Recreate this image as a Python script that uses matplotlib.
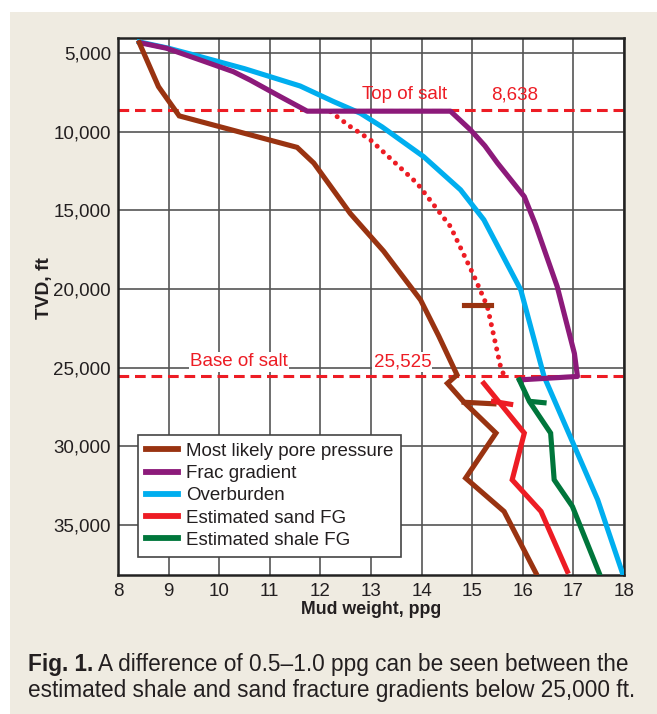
import matplotlib
matplotlib.use("Agg")
import matplotlib.pyplot as plt
from matplotlib.patches import Rectangle
from matplotlib.ticker import FuncFormatter

# ---------------- data ----------------
pore_x = [8.42, 8.80, 9.21, 11.54, 11.87, 12.59, 13.25, 13.98, 14.34, 14.70, 14.51, 14.84, 15.47, 14.87, 15.63, 16.26]
pore_y = [4350, 7140, 9000, 11000, 12000, 15200, 17600, 20700, 23000, 25460, 26000, 27200, 29160, 32020, 34140, 38060]

frac_x = [8.42, 8.96, 9.62, 10.28, 10.61, 11.21, 11.74, 14.57, 14.97, 15.25, 15.50, 16.03, 16.25, 16.68, 17.02, 17.08, 15.93]
frac_y = [4340, 4700, 5440, 6190, 6720, 7780, 8700, 8700, 9900, 10900, 12000, 14130, 15900, 19850, 24100, 25560, 25780]

ob_x = [8.42, 9.00, 9.62, 10.50, 11.60, 12.26, 12.79, 13.22, 14.04, 14.77, 15.23, 15.96, 16.42, 16.62, 17.05, 17.48, 17.97]
ob_y = [4300, 4700, 5230, 6000, 7100, 8090, 8830, 9700, 11590, 13700, 15600, 20060, 25560, 27040, 30220, 33400, 38060]

salt_fg_x = [12.20, 12.59, 12.99, 13.91, 14.57, 15.04, 15.30, 15.56, 15.61]
salt_fg_y = [8730, 9680, 10530, 13280, 16030, 19210, 21120, 24930, 25350]

sand_x = [15.23, 16.03, 15.79, 16.36, 16.88]
sand_y = [26000, 29160, 32130, 34140, 37950]

shale_x = [15.93, 16.13, 16.55, 16.62, 16.98, 17.51]
shale_y = [25780, 27150, 29160, 32130, 33820, 38060]

# short measurement marks
pore_mark1_x = [14.84, 15.37]
pore_mark1_y = [21000, 21000]
pore_mark2_x = [14.84, 15.43]
pore_mark2_y = [27200, 27300]
sand_mark_x = [15.42, 15.76]
sand_mark_y = [27150, 27330]
shale_mark_x = [16.16, 16.42]
shale_mark_y = [27150, 27230]

top_salt = 8638
base_salt = 25525

x_ticks = [8, 9, 10, 11, 12, 13, 14, 15, 16, 17, 18]
y_ticks = [5000, 10000, 15000, 20000, 25000, 30000, 35000]

legend_labels = ["Most likely pore pressure", "Frac gradient", "Overburden",
                 "Estimated sand FG", "Estimated shale FG"]

# ---------------- style ----------------
BROWN = "#993311"
PURPLE = "#8c1a7a"
CYAN = "#00aeef"
RED = "#ed1c24"
GREEN = "#00763b"
BEIGE = "#efebe1"
TXT = "#231f20"

FONT = ["Liberation Sans", "DejaVu Sans"]
plt.rcParams["font.family"] = FONT

W, H = 657, 714
fig = plt.figure(figsize=(W / 100, H / 100), dpi=100, facecolor="white")
bg = Rectangle((10 / W, 0), 1 - 10 / W, 1 - 12 / H, transform=fig.transFigure,
               facecolor=BEIGE, edgecolor="none", zorder=-10)
fig.patches.append(bg)

ax = fig.add_axes([118 / W, 1 - 575 / H, (624 - 118) / W, (575 - 37.7) / H])
ax.set_zorder(1)
ax.set_facecolor("white")
ax.set_xlim(8, 18)
ax.set_ylim(38180, 4030)

TICK = 13.5
ax.set_xticks(x_ticks)
ax.set_yticks(y_ticks)
ax.yaxis.set_major_formatter(FuncFormatter(lambda v, p: f"{int(v):,}"))
ax.tick_params(axis="x", length=0, pad=5.5, labelsize=TICK, colors=TXT)
ax.tick_params(axis="y", length=0, pad=5, labelsize=TICK, colors=TXT)
ax.grid(True, color="#555555", linewidth=1.2, zorder=1)
ax.set_axisbelow(True)
for s in ax.spines.values():
    s.set_color("#222222")
    s.set_linewidth(1.8)

ax.set_xlabel("Mud weight, ppg", fontweight="bold", fontsize=12.8, color=TXT)
ax.set_ylabel("TVD, ft", fontweight="bold", fontsize=13.8, color=TXT)
ax.xaxis.set_label_coords(0.5, -0.049)
ax.yaxis.set_label_coords(-0.128, 0.534)

lw = 3.7
# salt boundaries
ax.axhline(top_salt, color=RED, lw=2.2, ls=(0, (3.5, 1.9)), zorder=2)
ax.axhline(base_salt, color=RED, lw=2.2, ls=(0, (3.5, 1.9)), zorder=2)

ax.plot(ob_x, ob_y, color=CYAN, lw=lw, solid_joinstyle="round", zorder=3)
ax.plot(frac_x, frac_y, color=PURPLE, lw=lw, solid_joinstyle="round",
        solid_capstyle="round", zorder=4)
ax.plot(salt_fg_x, salt_fg_y, color=RED, lw=3.6, ls=(0, (0.01, 1.65)),
        dash_capstyle="round", zorder=3)
ax.plot(pore_x, pore_y, color=BROWN, lw=lw, solid_joinstyle="miter", zorder=5)
ax.plot(sand_x, sand_y, color=RED, lw=lw, solid_joinstyle="miter", zorder=4)
ax.plot(shale_x, shale_y, color=GREEN, lw=lw, solid_joinstyle="miter", zorder=4)
ax.plot(pore_mark1_x, pore_mark1_y, color=BROWN, lw=lw, zorder=5)
ax.plot(pore_mark2_x, pore_mark2_y, color=BROWN, lw=lw, zorder=5)
ax.plot(sand_mark_x, sand_mark_y, color=RED, lw=lw, zorder=5)
ax.plot(shale_mark_x, shale_mark_y, color=GREEN, lw=lw, zorder=5)

# salt labels
LBL = 13.5
ax.text(12.83, 7670, "Top of salt", fontsize=LBL, color=RED,
        ha="left", va="center", zorder=6)
ax.text(15.37, 7670, f"{top_salt:,}", fontsize=LBL, color=RED,
        ha="left", va="center", zorder=6)
bb = dict(facecolor="white", edgecolor="none", pad=1.0)
ax.text(9.43, 24630, "Base of salt", fontsize=LBL, color=RED,
        ha="left", va="center", bbox=bb, zorder=6)
ax.text(13.05, 24630, f"{base_salt:,}", fontsize=LBL, color=RED,
        ha="left", va="center", bbox=bb, zorder=6)

# legend
colors = [BROWN, PURPLE, CYAN, RED, GREEN]
handles = [plt.Line2D([], [], color=c, lw=4.2) for c in colors]
leg = ax.legend(handles, legend_labels, loc="upper left",
                bbox_to_anchor=(0.0395, 0.2606), borderaxespad=0,
                prop=dict(size=13.5), frameon=True, fancybox=False,
                framealpha=1, edgecolor="#444444", handlelength=1.7,
                handletextpad=0.45, labelspacing=0.27, borderpad=0.42)
leg.get_frame().set_linewidth(1.2)
leg.set_zorder(10)
for t in leg.get_texts():
    t.set_color(TXT)

# caption
CAP = 16.3
t1 = fig.text(28 / W, 1 - 671 / H, "Fig. 1.", fontsize=CAP,
              fontweight="bold", color=TXT, ha="left", va="baseline")
fig.canvas.draw()
bb1 = t1.get_window_extent()
fig.text(bb1.x1 / W, 1 - 671 / H, " A difference of 0.5–1.0 ppg can be seen between the",
         fontsize=CAP, color=TXT, ha="left", va="baseline")
fig.text(28 / W, 1 - 697 / H, "estimated shale and sand fracture gradients below 25,000 ft.",
         fontsize=CAP, color=TXT, ha="left", va="baseline")

fig.savefig("out.png", dpi=100, facecolor="white")
